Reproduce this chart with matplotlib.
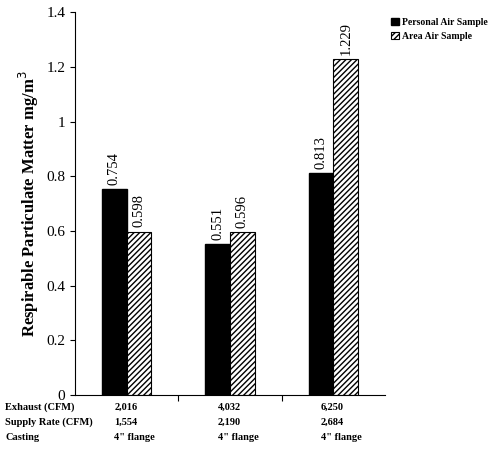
import matplotlib
matplotlib.use("Agg")
import matplotlib.pyplot as plt
import numpy as np

plt.rcParams['font.family'] = ['Liberation Serif', 'DejaVu Serif']

groups = ["g1", "g2", "g3"]
personal = [0.754, 0.551, 0.813]
area = [0.598, 0.596, 1.229]
row_labels = ["Exhaust (CFM)", "Supply Rate (CFM)", "Casting"]
table = [["2,016", "4,032", "6,250"], ["1,554", "2,190", "2,684"], ["4\" flange", "4\" flange", "4\" flange"]]

fig = plt.figure(figsize=(5, 4.5), dpi=100)
ax = fig.add_axes([0.15, 0.122, 0.62, 0.851])
x = np.arange(len(groups))
w = 0.24
b1 = ax.bar(x - w/2, personal, w, color='black', edgecolor='black', label='Personal Air Sample')
b2 = ax.bar(x + w/2, area, w, color='white', edgecolor='black', hatch='//////', linewidth=0.8, label='Area Air Sample')
for bars, vals in ((b1, personal), (b2, area)):
    for r, v in zip(bars, vals):
        ax.text(r.get_x() + r.get_width()/2, v + 0.015, f"{v:.3f}", rotation=90,
                ha='center', va='bottom', fontsize=10.5)
ax.set_xlim(-0.5, 2.5)
ax.set_ylim(0, 1.4)
ax.set_yticks(np.arange(0, 1.41, 0.2))
ax.set_yticklabels(["0", "0.2", "0.4", "0.6", "0.8", "1", "1.2", "1.4"], fontsize=11)
ax.set_xticks([0.5, 1.5])
ax.set_xticklabels([])
ax.tick_params(axis='x', length=4, direction='out')
for s in ('top', 'right'):
    ax.spines[s].set_visible(False)
ax.set_ylabel("Respirable Particulate Matter mg/m$^3$", fontsize=12, fontweight='bold')
ax.legend(loc='upper left', bbox_to_anchor=(1.0, 1.0), frameon=False,
          handlelength=0.8, handleheight=0.8, handletextpad=0.3, borderaxespad=0.2,
          prop={'weight': 'bold', 'size': 7})
ys = [407, 422, 437]
for i, lab in enumerate(row_labels):
    fig.text(5/500, 1 - ys[i]/450, lab, fontsize=7.5, fontweight='bold', va='center')
    for j in range(3):
        xd = ax.transData.transform((j, 0))[0] / fig.bbox.width
        fig.text(xd - 0.025, 1 - ys[i]/450, table[i][j], fontsize=7.5, fontweight='bold', va='center')
fig.savefig("out.png", dpi=100)
